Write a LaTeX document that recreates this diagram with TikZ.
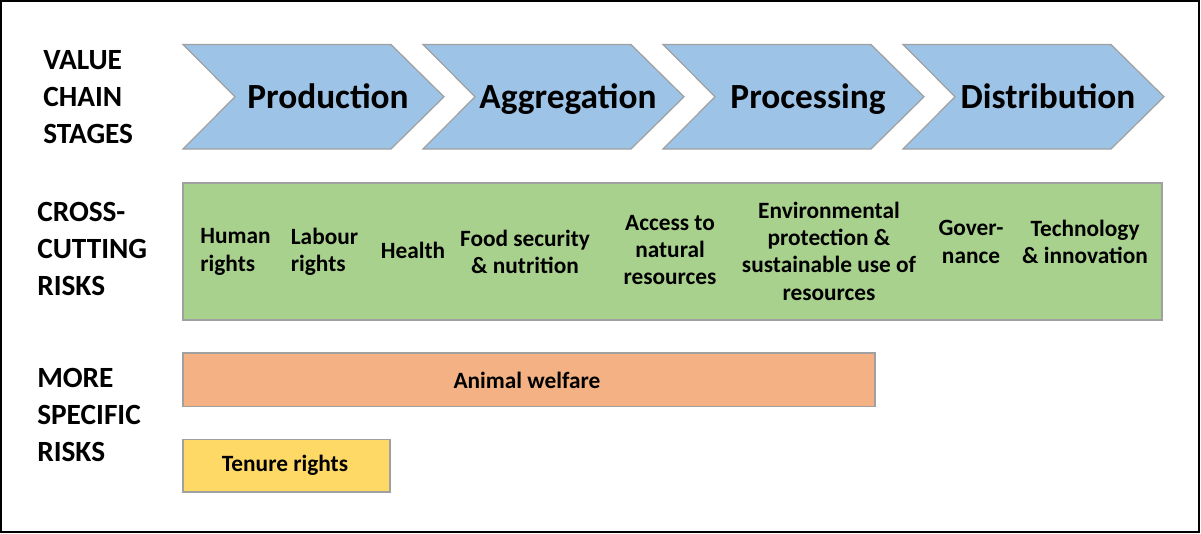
\documentclass[tikz,border=0pt]{standalone}
\usepackage{fontspec}
\setmainfont{Carlito}
\usetikzlibrary{positioning}

\definecolor{stageblue}{HTML}{9DC3E6}
\definecolor{riskgreen}{HTML}{A9D18E}
\definecolor{riskorange}{HTML}{F4B183}
\definecolor{riskyellow}{HTML}{FFD966}
\definecolor{boxline}{HTML}{A0A0A0}

\begin{document}
\begin{tikzpicture}[x=0.75pt,y=-0.75pt,
    rowlabel/.style={anchor=west, align=left, inner sep=0pt,
      font=\fontsize{22}{27.75}\selectfont\bfseries},
    stagetext/.style={anchor=base, inner sep=0pt, font=\fontsize{26.5}{30}\selectfont\bfseries},
    risktext/.style={inner sep=0pt, align=center,
      font=\fontsize{17.5}{20.5}\selectfont\bfseries},
    riskbox/.style={draw=boxline, line width=0.9pt}]
    \useasboundingbox (0,0) rectangle (1201,533);
    % Cadre
    \draw[line width=1.5pt] (1,1) rectangle (1199,532);

    % Etiquettes des lignes
    \node[rowlabel] (valuelbl) at (43,97) {VALUE\\CHAIN\\STAGES};
    \node[rowlabel] (crosslbl) at (37,249) {CROSS-\\CUTTING\\RISKS};
    \node[rowlabel] (morelbl) at (37,415) {MORE\\SPECIFIC\\RISKS};

    % Etapes de la chaine de valeur
    \foreach \stage [count=\i from 0] in {Production,Aggregation,Processing,Distribution} {
        \pgfmathsetmacro{\xs}{183+240*\i}
        \draw[riskbox, fill=stageblue] (\xs,44.5) -- ({\xs+208},44.5) -- ({\xs+261},96.75)
            -- ({\xs+208},149) -- (\xs,149) -- ({\xs+52},96.75) -- cycle;
        \node[stagetext] (stage\i) at ({\xs+145},108) {\stage};
    }

    % Risques transversaux
    \draw[riskbox, fill=riskgreen] (183,183) rectangle (1162,320);
    \node[risktext, align=left] (human) at (235.5,252) {Human\\rights};
    \node[risktext, align=left] (labour) at (324.5,252) {Labour\\rights};
    \node[risktext] (health) at (413,250) {Health};
    \node[risktext] (food) at (525,252) {Food security\\\& nutrition};
    \node[risktext] (access) at (670,250) {Access to\\natural\\resources};
    \node[risktext] (envir) at (829,251) {Environmental\\protection \&\\sustainable use of\\resources};
    \node[risktext] (gover) at (971,242) {Gover-\\nance};
    \node[risktext] (techno) at (1085,242) {Technology\\\& innovation};

    % Risques plus specifiques
    \draw[riskbox, fill=riskorange] (183,353) rectangle (875,406.5);
    \node[risktext] (animal) at (527,380) {Animal welfare};
    \draw[riskbox, fill=riskyellow] (183,439.5) rectangle (390,492);
    \node[risktext] (tenure) at (285,465) {Tenure rights};
\end{tikzpicture}
\end{document}
